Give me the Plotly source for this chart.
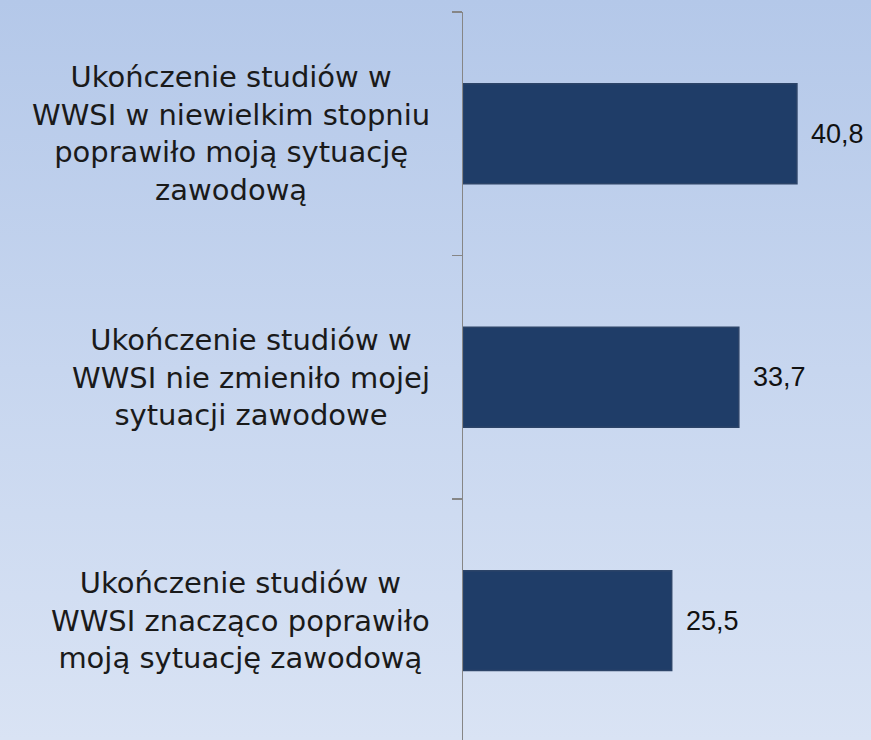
import base64
import plotly.graph_objects as go

categories = [
    "Ukończenie studiów w<br>WWSI w niewielkim stopniu<br>poprawiło moją sytuację<br>zawodową",
    "Ukończenie studiów w<br>WWSI nie zmieniło mojej<br>sytuacji zawodowe",
    "Ukończenie studiów w<br>WWSI znacząco poprawiło<br>moją sytuację zawodową",
]
values = [40.8, 33.7, 25.5]
value_labels = ["40,8", "33,7", "25,5"]

W, H = 871, 740
L, T = 463, 12

svg = (
    '<svg xmlns="http://www.w3.org/2000/svg" width="871" height="740" preserveAspectRatio="none">'
    '<defs><linearGradient id="g" x1="0" y1="0" x2="0" y2="1">'
    '<stop offset="0" stop-color="#b4c8e9"/>'
    '<stop offset="0.5" stop-color="#c7d6ef"/>'
    '<stop offset="1" stop-color="#d9e3f4"/>'
    '</linearGradient></defs>'
    '<rect width="871" height="740" fill="url(#g)"/></svg>'
)
src = "data:image/svg+xml;base64," + base64.b64encode(svg.encode()).decode()

pw = W - L
ph = H - T

fig = go.Figure()
fig.add_trace(go.Bar(
    x=values,
    y=categories,
    orientation="h",
    width=0.41,
    marker=dict(color="#1f3d68", line=dict(color="#2c4468", width=1.5)),
    hoverinfo="skip",
))

annotations = []
for c in categories:
    annotations.append(dict(
        x=0, xref="paper", y=c, yref="y", xanchor="right", yanchor="middle",
        xshift=-31, text=c, showarrow=False, align="center",
        font=dict(family="DejaVu Sans", size=29, color="#1a1a1a"),
    ))
for c, v, t in zip(categories, values, value_labels):
    annotations.append(dict(
        x=v, xref="x", y=c, yref="y", xanchor="left", yanchor="middle",
        xshift=12, text=t, showarrow=False,
        font=dict(family="Liberation Sans", size=27, color="#111111"),
    ))

fig.update_layout(
    width=W, height=H,
    margin=dict(l=L, r=0, t=T, b=0, pad=0),
    paper_bgcolor="#c7d6ef",
    plot_bgcolor="rgba(0,0,0,0)",
    showlegend=False,
    bargap=0.59,
    annotations=annotations,
    images=[dict(
        source=src, xref="paper", yref="paper",
        x=-L / pw, y=1 + T / ph, sizex=W / pw, sizey=H / ph,
        xanchor="left", yanchor="top", sizing="stretch", layer="below",
    )],
    xaxis=dict(range=[0, 49.85], visible=False, fixedrange=True),
    yaxis=dict(
        type="category",
        range=[2.49, -0.5],
        showticklabels=False,
        showgrid=False,
        zeroline=False,
        showline=True,
        linecolor="#868686",
        linewidth=1.5,
        ticks="outside",
        tickson="boundaries",
        ticklen=10,
        tickcolor="#868686",
        tickwidth=1.5,
        fixedrange=True,
    ),
)

fig.write_html(
    "out.html",
    config={"displayModeBar": False, "staticPlot": True},
    post_script="document.body.style.margin='0';document.body.style.overflow='hidden';",
)
